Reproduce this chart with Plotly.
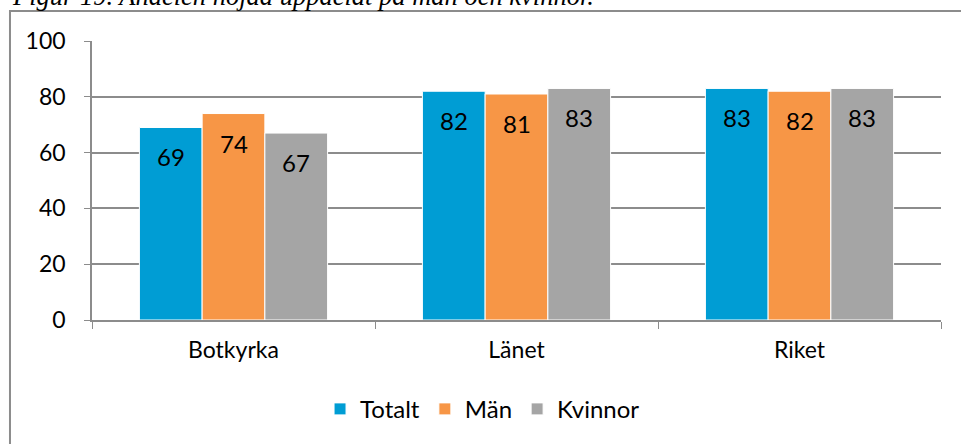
import plotly.graph_objects as go

categories = ['Botkyrka', 'Länet', 'Riket']
totalt = [69, 82, 83]
man = [74, 81, 82]
kvinnor = [67, 83, 83]

series_names = ['Totalt', 'Män', 'Kvinnor']
colors = ['#009dd4', '#f79646', '#a5a5a5']

FONT = 'Lato'
W, H = 961, 444
MARGIN = dict(l=92, r=20, t=41, b=124)
BARGAP = 0.335

fig = go.Figure()

for name, values, color in zip(series_names, [totalt, man, kvinnor], colors):
    fig.add_trace(go.Bar(
        x=categories, y=values, name=name,
        marker=dict(color=color, line=dict(color='#fff', width=1)),
    ))

# value labels sit a bit below the top of each bar, like the Excel original
bar_px = (W - MARGIN['l'] - MARGIN['r']) / len(categories) * (1 - BARGAP) / len(series_names)
for i, values in enumerate([totalt, man, kvinnor]):
    for cat, v in zip(categories, values):
        fig.add_annotation(x=cat, y=v, text=str(v), showarrow=False,
                           xshift=(i - 1) * bar_px, yshift=-13, yanchor='top',
                           font=dict(size=24, color='#000', family=FONT))

# caption, mostly cut off at the top of the page
fig.add_annotation(
    text='<i>Figur 19. Andelen höjda uppdelat på män och kvinnor.</i>',
    xref='paper', yref='paper', x=-0.097, y=1.10,
    xanchor='left', yanchor='bottom', showarrow=False,
    font=dict(family='Liberation Serif', size=26.5, color='#000'))

# outer chart frame
fig.add_shape(type='rect', xref='paper', yref='paper',
              x0=-0.0966, y0=-1, x1=1.2, y1=1.1075,
              line=dict(color='#8c8c8c', width=2), layer='below')

fig.update_layout(
    width=W, height=H,
    barmode='group', bargap=BARGAP, bargroupgap=0,
    plot_bgcolor='#fff', paper_bgcolor='#fff',
    margin=MARGIN,
    font=dict(family=FONT, size=23, color='#000'),
    legend=dict(orientation='h', xanchor='center', x=0.46, yanchor='middle', y=-0.32,
                font=dict(size=24), itemwidth=30, traceorder='normal'),
)

fig.update_yaxes(range=[0, 100], dtick=20, showgrid=True, gridcolor='#8c8c8c', gridwidth=1.5,
                 showline=True, linecolor='#8c8c8c', linewidth=1.5,
                 ticks='outside', ticklen=6, tickcolor='#8c8c8c', zeroline=False,
                 ticklabelstandoff=14)
fig.update_xaxes(showline=True, linecolor='#8c8c8c', linewidth=1.5,
                 ticks='outside', ticklen=7, tickcolor='#8c8c8c', tickson='boundaries',
                 ticklabelstandoff=9)

fig.write_html("out.html", config=dict(displayModeBar=False),
               post_script="document.body.style.margin='0';")
